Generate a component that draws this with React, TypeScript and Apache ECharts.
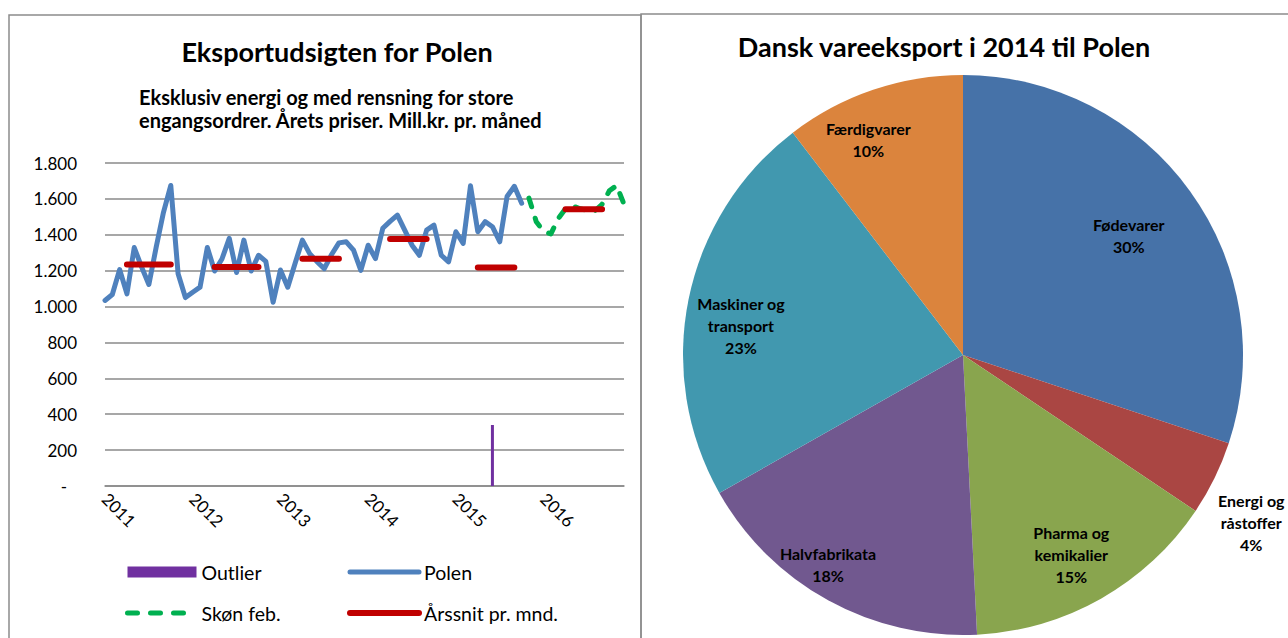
import React, { useEffect, useRef } from 'react';
import * as echarts from 'echarts';

// ---------- Data ----------
const years = ['2011', '2012', '2013', '2014', '2015', '2016'];
const months = ['01', '02', '03', '04', '05', '06', '07', '08', '09', '10', '11', '12'];
const categories = years.flatMap((y) => months.map((m) => `${y}-${m}`));

// Polen, monthly 2011-01 .. 2015-10 (mill. kr.)
const polen = [
  1034, 1067, 1206, 1071, 1329, 1221, 1123, 1330, 1525, 1675, 1183, 1050,
  1080, 1108, 1329, 1198, 1265, 1380, 1190, 1370, 1198, 1286, 1252, 1024,
  1204, 1108, 1240, 1370, 1295, 1250, 1211, 1290, 1355, 1361, 1314, 1202,
  1342, 1267, 1436, 1475, 1510, 1426, 1342, 1286, 1426, 1454, 1286, 1249,
  1417, 1352, 1673, 1417, 1473, 1445, 1361, 1613, 1670, 1576,
];
// Skøn feb., 2015-11 .. 2016-12
const skonStart = '2015-11';
const skon = [1604, 1473, 1420, 1405, 1490, 1545, 1560, 1545, 1535, 1533, 1570, 1645, 1675, 1570];
// Årssnit pr. mnd. (yearly average), drawn over month spans
const aarssnit = [1235, 1221, 1267, 1376, 1217, 1542];
const aarssnitSpan = [[4, 10], [4, 10], [4, 9], [4, 9], [4, 9], [4, 9]]; // months (1-based)
// Outlier
const outlierMonth = '2015-06';
const outlierValue = 340;

// Pie: Dansk vareeksport i 2014 til Polen (share, %)
const pieNames = ['Fødevarer', 'Energi og\nråstoffer', 'Pharma og\nkemikalier', 'Halvfabrikata', 'Maskiner og\ntransport', 'Færdigvarer'];
const pieValues = [30.1, 4.3, 14.8, 17.6, 22.8, 10.4];
const pieColors = ['#4672A8', '#AA4643', '#89A54E', '#71588F', '#4198AF', '#DB843D'];

// ---------- Layout / style ----------
const FONT = 'Lato, "Open Sans", sans-serif';
const GRID_GRAY = '#8a8a8a';
const PIE_CX = 963;
const PIE_CY = 355;
const PIE_R = 280;
// [radius fraction, angle nudge in degrees] for each pie label
const labelNudge = [[0.73, 0], [1.19, 4], [0.81, 1], [0.89, 4], [0.8, -4], [0.84, -5]];

const fmtThousands = (v: number) => String(v).replace(/\B(?=(\d{3})+(?!\d))/g, '.');

const BLUE = '#4F81BD';
const GREEN = '#00B050';
const RED = '#C00000';
const PURPLE = '#7030A0';
const GREEN_DASH = [9, 12];

export default function App() {
  const ref = useRef<HTMLDivElement>(null);

  useEffect(() => {
    const chart = echarts.init(ref.current!, null, { renderer: 'svg' });

    const polenData = categories.map((_, i) => (i < polen.length ? polen[i] : null));
    const skonIdx = categories.indexOf(skonStart);
    const skonData = categories.map((_, i) =>
      i >= skonIdx && i - skonIdx < skon.length ? skon[i - skonIdx] : null
    );
    const avgData: (number | null)[] = categories.map(() => null);
    aarssnit.forEach((v, k) => {
      const [a, b] = aarssnitSpan[k];
      for (let m = a; m <= b; m++) avgData[k * 12 + m - 1] = v;
    });
    const outIdx = categories.indexOf(outlierMonth);
    const outlierData = categories.map((_, i) => (i === outIdx ? outlierValue : null));

    const total = pieValues.reduce((a, b) => a + b, 0);
    const midAngles = pieValues.map(
      (v, i) => ((pieValues.slice(0, i).reduce((a, b) => a + b, 0) + v / 2) / total) * 360
    );

    const legendText = { fontSize: 19.5, color: '#000', fontFamily: FONT };
    const hiddenSymbol = { opacity: 0 };

    const option: any = {
      animation: false,
      backgroundColor: '#ffffff',
      textStyle: { fontFamily: FONT },
      graphic: [
        {
          type: 'rect',
          z: -10,
          shape: { x: 9, y: 15, width: 632, height: 640 },
          style: { fill: 'none', stroke: '#8c8c8c', lineWidth: 1.5 },
        },
        {
          type: 'rect',
          z: -10,
          shape: { x: 641, y: 14, width: 660, height: 640 },
          style: { fill: 'none', stroke: '#8c8c8c', lineWidth: 1.5 },
        },
        {
          type: 'text',
          x: 337,
          y: 51,
          style: {
            text: 'Eksportudsigten for Polen',
            font: `bold 27px ${FONT}`,
            fill: '#000',
            textAlign: 'center',
            textVerticalAlign: 'middle',
          },
        },
        {
          type: 'text',
          x: 139,
          y: 108,
          style: {
            text: 'Eksklusiv energi og med rensning for store\nengangsordrer. Årets priser. Mill.kr. pr. måned',
            font: `bold 20px ${FONT}`,
            lineHeight: 23,
            fill: '#000',
            textAlign: 'left',
            textVerticalAlign: 'middle',
          },
        },
        {
          type: 'text',
          x: 944,
          y: 46,
          style: {
            text: 'Dansk vareeksport i 2014 til Polen',
            font: `bold 27px ${FONT}`,
            fill: '#000',
            textAlign: 'center',
            textVerticalAlign: 'middle',
          },
        },
      ],
      grid: { left: 105, right: 1288 - 624, top: 163, bottom: 638 - 486, containLabel: false },
      xAxis: {
        type: 'category',
        data: categories,
        boundaryGap: false,
        axisLine: { show: true, lineStyle: { color: GRID_GRAY, width: 1.5 } },
        axisTick: { show: false },
        splitLine: { show: false },
        axisLabel: {
          rotate: -45,
          interval: (i: number) => i % 12 === 0,
          formatter: (v: string) => v.slice(0, 4),
          margin: 10,
          fontSize: 17,
          color: '#000',
          fontFamily: FONT,
        },
      },
      yAxis: {
        type: 'value',
        min: 0,
        max: 1800,
        interval: 200,
        axisLine: { show: false },
        axisTick: { show: false },
        splitLine: { lineStyle: { color: GRID_GRAY, width: 1.5 } },
        axisLabel: {
          margin: 28,
          fontSize: 17,
          color: '#000',
          fontFamily: FONT,
          formatter: (v: number) => (v === 0 ? '{d|-}' : fmtThousands(v)),
          rich: { d: { fontSize: 17, color: '#000', fontFamily: FONT, padding: [0, 10, 0, 0] } },
        },
      },
      legend: [
        {
          orient: 'vertical',
          left: 120,
          top: 557,
          padding: 5,
          itemWidth: 69,
          itemHeight: 11,
          itemGap: 21,
          textStyle: legendText,
          data: [
            { name: 'Outlier', icon: 'rect' },
            {
              name: 'Skøn feb.',
              itemStyle: hiddenSymbol,
              lineStyle: { width: 5, type: [10, 13], cap: 'round', color: GREEN },
            },
          ],
        },
        {
          orient: 'vertical',
          left: 342,
          top: 557,
          padding: 5,
          itemWidth: 69,
          itemHeight: 11,
          itemGap: 21,
          textStyle: legendText,
          data: [
            {
              name: 'Polen',
              itemStyle: hiddenSymbol,
              lineStyle: { width: 5, cap: 'round', color: BLUE },
            },
            {
              name: 'Årssnit pr. mnd.',
              itemStyle: hiddenSymbol,
              lineStyle: { width: 6, cap: 'round', color: RED },
            },
          ],
        },
      ],
      series: [
        {
          name: 'Outlier',
          type: 'bar',
          data: outlierData,
          barWidth: 3,
          itemStyle: { color: PURPLE },
        },
        {
          name: 'Polen',
          type: 'line',
          data: polenData,
          symbol: 'none',
          itemStyle: { color: BLUE },
          lineStyle: { color: BLUE, width: 5, cap: 'round', join: 'round' },
        },
        {
          name: 'Skøn feb.',
          type: 'line',
          data: skonData,
          symbol: 'none',
          itemStyle: { color: GREEN },
          lineStyle: { color: GREEN, width: 5, type: GREEN_DASH, cap: 'round', join: 'round' },
        },
        {
          name: 'Årssnit pr. mnd.',
          type: 'line',
          data: avgData,
          symbol: 'none',
          connectNulls: false,
          itemStyle: { color: RED },
          lineStyle: { color: RED, width: 6, cap: 'round', join: 'round' },
        },
        {
          name: 'Dansk vareeksport',
          type: 'pie',
          center: [PIE_CX, PIE_CY],
          radius: [0, PIE_R],
          startAngle: 90,
          clockwise: true,
          percentPrecision: 0,
          avoidLabelOverlap: false,
          data: pieNames.map((n, i) => ({
            name: n,
            value: pieValues[i],
            itemStyle: { color: pieColors[i] },
          })),
          itemStyle: { borderWidth: 0 },
          label: {
            show: true,
            position: 'inside',
            formatter: '{b}\n{d}%',
            fontSize: 16,
            fontWeight: 'bold',
            lineHeight: 22,
            color: '#000',
            fontFamily: FONT,
            align: 'center',
          },
          labelLine: { show: false },
          labelLayout: (p: any) => {
            const i = p.dataIndex;
            const a = ((midAngles[i] + labelNudge[i][1]) * Math.PI) / 180;
            const rr = PIE_R * labelNudge[i][0];
            return {
              x: PIE_CX + rr * Math.sin(a),
              y: PIE_CY - rr * Math.cos(a),
              align: 'center',
              verticalAlign: 'middle',
            };
          },
        },
      ],
    };

    chart.setOption(option);
    return () => chart.dispose();
  }, []);

  return (
    <div
      ref={ref}
      style={{ position: 'fixed', left: 0, top: 0, width: 1288, height: 638 }}
    />
  );
}
